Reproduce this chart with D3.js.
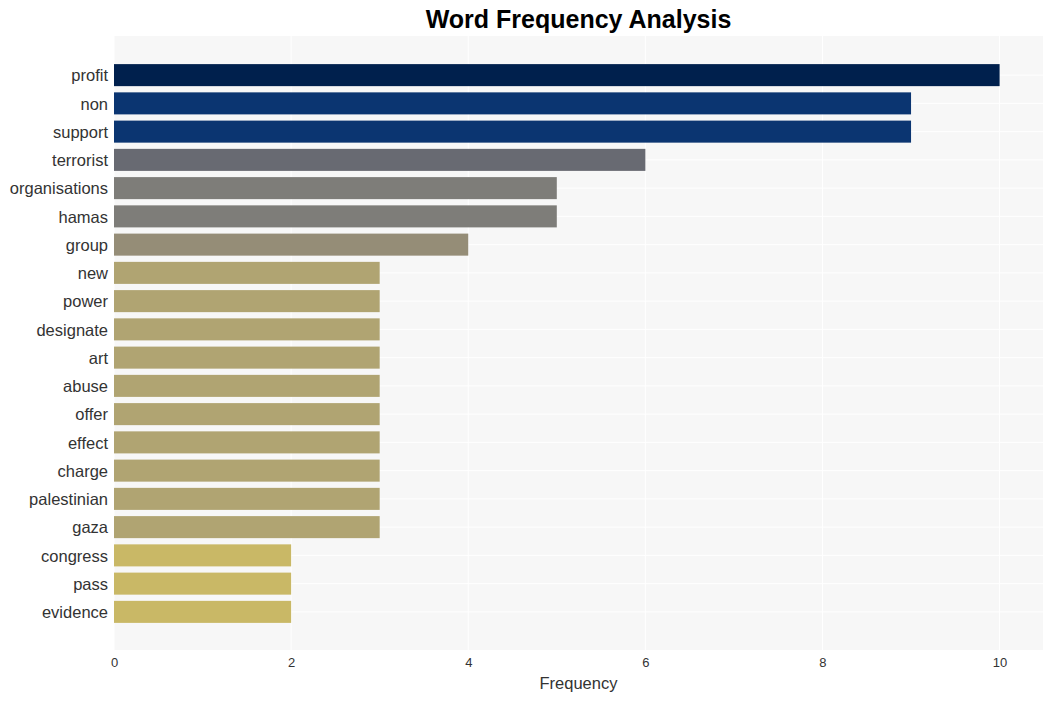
<!DOCTYPE html>
<html>
  <head>
    <meta charset="utf-8">
    <title>Word Frequency Analysis</title>
    <script src="https://cdn.jsdelivr.net/npm/d3@7"></script>
    <style>
      body { margin: 0; background: #fff; }
      text { font-family: "Liberation Sans", Arial, sans-serif; }
      .domain { display: none; }
    </style>
  </head>
  <body>
    <svg id="chart" width="1053" height="701"></svg>
    <script>
      // data
      words = ["profit", "non", "support", "terrorist", "organisations", "hamas", "group",
        "new", "power", "designate", "art", "abuse", "offer", "effect", "charge",
        "palestinian", "gaza", "congress", "pass", "evidence"];
      counts = [10, 9, 9, 6, 5, 5, 4, 3, 3, 3, 3, 3, 3, 3, 3, 3, 3, 2, 2, 2];
      xTicks = [0, 2, 4, 6, 8, 10];
      // colour per count (cividis-like)
      colourKeys = [10, 9, 6, 5, 4, 3, 2];
      colourVals = ["#00204d", "#0b3571", "#686a72", "#7e7d79", "#958d77", "#b0a472", "#c9b866"];

      chart = d3.select("#chart");
      margin = { top: 36, right: 10, bottom: 50, left: 114 };
      width = 1053;
      height = 701;

      x = d3.scaleLinear()
        .domain([0, 10.49])
        .range([margin.left, width - margin.right]);
      y = d3.scaleBand()
        .domain(words)
        .range([61, 626])
        .paddingInner(0.22)
        .paddingOuter(0.11);
      colour = d3.scaleOrdinal()
        .domain(colourKeys)
        .range(colourVals);

      // plot background
      chart.append("rect")
        .attr("x", margin.left)
        .attr("y", margin.top)
        .attr("width", width - margin.right - margin.left)
        .attr("height", height - margin.bottom - margin.top - 1)
        .attr("fill", "#f7f7f7");

      // grid
      chart.append("g")
        .selectAll("line")
        .data(xTicks)
        .join("line")
          .attr("x1", function(d) { return x(d); })
          .attr("x2", function(d) { return x(d); })
          .attr("y1", margin.top)
          .attr("y2", height - margin.bottom - 1)
          .attr("stroke", "#fff")
          .attr("stroke-width", 1);
      chart.append("g")
        .selectAll("line")
        .data(words)
        .join("line")
          .attr("x1", margin.left)
          .attr("x2", width - margin.right)
          .attr("y1", function(d) { return y(d) + y.bandwidth() / 2; })
          .attr("y2", function(d) { return y(d) + y.bandwidth() / 2; })
          .attr("stroke", "#fff")
          .attr("stroke-width", 1);

      // bars
      chart.append("g")
        .selectAll("rect")
        .data(words)
        .join("rect")
          .attr("x", x(0))
          .attr("y", function(d) { return y(d); })
          .attr("width", function(d, i) { return x(counts[i]) - x(0); })
          .attr("height", y.bandwidth())
          .attr("fill", function(d, i) { return colour(counts[i]); });

      // axes
      chart.append("g")
        .attr("transform", "translate(0, " + (height - margin.bottom) + ")")
        .call(d3.axisBottom(x)
          .tickValues(xTicks)
          .tickSize(0)
          .tickPadding(7))
        .selectAll("text")
          .attr("font-size", 13)
          .attr("fill", "#333");
      chart.append("g")
        .attr("transform", "translate(" + margin.left + ", 1)")
        .call(d3.axisLeft(y)
          .tickSize(0)
          .tickPadding(6))
        .selectAll("text")
          .attr("font-size", 16.5)
          .attr("fill", "#333");

      // titles
      chart.append("text")
        .attr("x", (margin.left + width - margin.right) / 2)
        .attr("y", 28)
        .attr("text-anchor", "middle")
        .attr("font-size", 25)
        .attr("font-weight", "bold")
        .attr("fill", "#000")
        .text("Word Frequency Analysis");
      chart.append("text")
        .attr("x", (margin.left + width - margin.right) / 2)
        .attr("y", 689)
        .attr("text-anchor", "middle")
        .attr("font-size", 16.5)
        .attr("fill", "#333")
        .text("Frequency");
    </script>
  </body>
</html>
